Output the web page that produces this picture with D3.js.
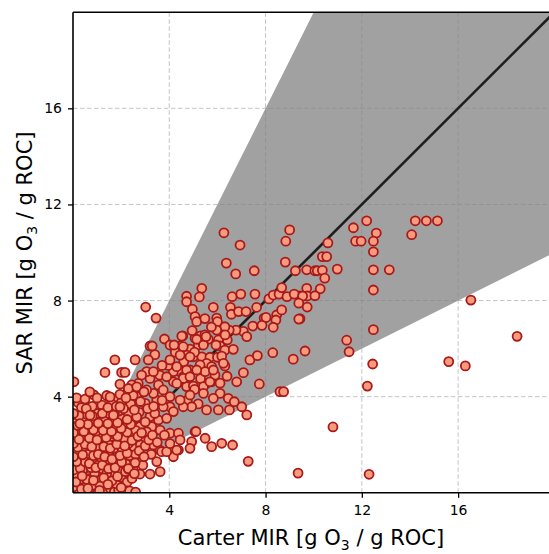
<!DOCTYPE html>
<html>
<head>
<meta charset="utf-8">
<script src="https://cdn.jsdelivr.net/npm/d3@7"></script>
<style>
  body { margin: 0; background: #fff; }
  svg { display: block; font-family: "DejaVu Sans", Verdana, sans-serif; }
</style>
</head>
<body>
<svg id="chart" width="549" height="554"></svg>
<script>
// axis settings
const xDomain = [0, 20];
const yDomain = [0, 20];
const xTicks = [4, 8, 12, 16];
const yTicks = [4, 8, 12, 16];
// ratio band (SAR / Carter) and 1:1 line
const bandRatios = [0.5, 2];
const parityLine = [[0, 0], [20, 20]];

// scattered compounds, off the dense cluster  [Carter MIR, SAR MIR]
const upperPoints = [
  [12.20,11.32],[11.65,11.03],[14.22,11.32],[14.68,11.32],[15.14,11.32],[14.07,10.74],[12.60,10.81],
  [12.48,10.47],[11.74,10.47],[11.97,10.47],[10.59,10.40],[12.48,10.03],[10.36,9.83],[10.54,9.83],
  [9.71,9.28],[10.05,9.24],[10.15,9.24],[10.36,9.26],[10.98,9.31],[10.46,8.93],[12.48,9.28],[13.14,9.28],
  [12.48,8.44],[9.71,8.51],[10.27,8.49],[9.43,8.19],[9.73,8.19],[10.05,8.20],[9.73,7.73],[9.43,7.25],
  [16.53,8.02],[12.48,6.79],[11.37,6.35],[11.47,5.87],[9.64,5.90],[12.45,5.36],[15.61,5.46],[16.30,5.28],
  [18.45,6.51],[12.23,4.44],[12.30,0.77],[9.35,0.82],[10.80,2.74]
];

// middle band along the 1:1 line
const middlePoints = [
  [6.27,10.82],[9.00,10.94],[8.84,10.47],[6.94,10.31],[6.37,9.56],[8.82,9.60],[6.76,9.11],[7.53,9.24],
  [9.24,9.24],[5.35,8.51],[4.72,8.18],[5.25,8.15],[6.61,8.16],[6.97,8.27],[7.56,8.27],[8.14,8.07],
  [8.32,8.23],[8.56,8.27],[8.67,8.54],[8.89,8.16],[9.19,8.27],[9.54,8.19],[4.72,7.95],[3.02,7.73],
  [3.45,7.27],[4.96,7.64],[5.07,7.33],[5.14,7.12],[5.48,7.25],[5.83,7.72],[5.97,7.27],[6.00,7.12],
  [6.54,7.72],[6.58,7.43],[6.88,7.54],[7.19,7.54],[7.63,7.72],[7.94,7.27],[8.02,7.30],[8.46,7.40],
  [8.67,7.61],[8.43,7.19],[9.38,7.23],[9.38,7.89],[7.47,6.94],[7.85,6.97],[8.32,6.89],[7.08,6.72],
  [7.22,6.50],[6.77,6.77],[6.49,6.77],[6.31,6.91],[6.22,6.57],[6.41,6.36],[5.97,6.77],[6.04,6.36],
  [6.11,6.11],[6.31,5.94],[6.66,5.97],[4.56,6.53],[5.07,6.43],[5.30,6.53],[5.48,6.57],[5.62,6.39],
  [5.21,6.15],[5.41,6.19],[4.17,6.11],[4.45,6.11],[4.86,5.98],[4.72,5.73],[5.00,5.66],[5.35,5.66],
  [5.69,5.64],[6.00,5.64],[5.55,5.39],[5.76,5.25],[6.31,5.28],[5.41,5.04],[4.86,5.11],[4.45,5.04],
  [4.17,5.04],[4.58,4.83],[4.17,4.62],[4.72,4.42],[5.00,4.44],[5.55,4.56],[5.76,4.62],[6.11,4.56],
  [6.80,4.62],[7.08,5.00],[7.35,5.53],[7.66,5.71],[8.30,5.83],[9.15,5.56],[7.74,4.53],[8.60,4.21],
  [8.75,4.21],[7.28,1.31],[3.61,1.78],[4.03,1.71],[5.55,3.45],[7.01,3.58],[7.22,3.24],[6.11,4.14],
  [6.45,3.93],[5.07,2.54],
  [3.60,4.90],[3.95,5.30],[4.25,5.85],[4.60,5.45],[5.05,5.85],[5.30,4.75],[5.90,4.90],[6.40,4.85],
  [4.75,3.85],[5.20,3.70],[5.05,4.30],[3.70,5.30],[3.40,5.75],[3.80,6.40],[4.95,6.75],[5.75,6.90]
];

// lower left region, x 0-7
const lowerPoints = [
  [0.04,4.62],[0.22,3.75],[1.33,5.01],[1.74,5.53],[2.58,5.53],[3.13,5.53],[3.20,6.11],[3.29,6.11],
  [2.02,5.01],[2.16,5.01],[0.87,4.07],[0.64,3.58],[0.57,3.38],[0.78,3.45],[1.47,4.00],[1.82,3.93],
  [4.03,6.15],[4.20,6.15],[4.52,6.52],[4.58,6.08],[5.14,6.39],[5.42,6.15],[5.53,6.50],[5.94,6.15],
  [6.32,6.57],[6.18,5.69],[4.86,5.66],[4.45,5.73],[4.03,5.53],[5.28,5.32],[5.49,5.04],[5.83,5.11],
  [6.25,5.39],[5.14,5.11],[4.72,5.11],[4.31,5.25],[3.89,4.83],[4.58,4.76],[4.86,4.83],[4.31,4.55],
  [5.42,4.42],[5.69,4.62],[5.42,4.14],[5.83,3.93],[6.04,3.45],[6.50,3.45],[6.70,3.79],[4.86,4.07],
  [4.93,3.58],[4.58,3.58],[4.45,3.86],[4.03,4.00],[4.03,3.58],[4.17,3.38],[3.75,3.58],[3.48,3.86],
  [3.34,4.14],[3.06,4.28],[3.20,4.76],[3.55,4.49],[3.75,4.28],[3.06,5.04],[3.34,5.04],[2.85,4.90],
  [2.71,4.55],[2.44,4.49],[2.23,4.14],[2.65,4.00],[3.00,3.72],[3.20,3.17],[3.55,3.03],[3.89,3.10],
  [4.03,2.48],[4.38,2.48],[4.45,2.20],[4.93,2.13],[5.11,2.55],[5.49,2.27],[5.76,1.92],[6.18,2.06],
  [6.63,1.99],[4.86,1.85],[4.38,1.78],[4.17,1.50],[3.68,1.71],[3.48,1.30],[3.62,0.88],[3.20,0.78],
  [2.78,0.78],[3.34,1.99],[3.62,2.61],[3.27,2.75],[3.06,2.54],[2.78,2.75],[2.58,2.34],[2.85,2.13],
  [2.37,1.78],[2.09,1.50],[1.81,1.23],[2.09,1.09],[1.68,0.81],[1.95,0.46],[1.54,0.26],[1.26,0.05],
  [1.68,0.01],[0.71,0.01]
];

// the dense cluster near the origin
const clusterPoints = [
  [0.08,0.05],[0.25,0.12],[0.42,0.02],[0.55,0.22],[0.70,0.08],[0.88,0.15],[1.02,0.03],[1.20,0.20],
  [1.38,0.06],[1.55,0.18],[1.72,0.04],[1.90,0.12],[2.10,0.02],[2.35,0.08],[2.60,0.03],[0.15,0.32],
  [0.62,0.40],[0.95,0.35],[1.30,0.42],[1.80,0.38],[0.30,0.30],[0.48,0.45],[0.05,0.60],[0.30,0.55],
  [0.48,0.75],[0.78,0.62],[1.10,0.70],[1.45,0.58],[1.65,0.80],[2.00,0.65],[2.25,0.45],[0.20,0.88],
  [0.65,0.95],[0.90,0.82],[1.25,0.98],[1.90,0.90],[2.45,0.60],[0.10,1.10],[0.38,1.20],[0.55,1.05],
  [0.82,1.25],[1.05,1.15],[1.35,1.30],[1.60,1.10],[1.85,1.35],[2.20,1.20],[2.50,1.05],[0.25,1.45],
  [0.70,1.50],[1.15,1.48],[1.50,1.55],[2.35,1.55],[2.70,1.40],[0.05,1.70],[0.45,1.75],[0.90,1.80],
  [1.25,1.70],[1.70,1.85],[2.05,1.75],[2.55,1.90],[0.30,2.00],[0.65,2.10],[1.05,2.05],[1.45,2.10],
  [1.90,2.15],[2.30,2.05],[2.80,2.00],[0.12,2.30],[0.50,2.40],[0.85,2.35],[1.20,2.45],[1.60,2.35],
  [2.00,2.50],[2.40,2.40],[0.30,2.65],[0.72,2.70],[1.10,2.75],[1.42,2.65],[1.80,2.70],[2.20,2.75],
  [2.60,2.60],[0.08,2.90],[0.45,3.00],[0.90,2.95],[1.30,3.05],[1.65,3.00],[2.05,3.10],[2.45,3.00],
  [0.60,3.25],[1.00,3.30],[1.50,3.30],[1.90,3.40],[2.30,3.30],[2.75,3.35],[0.35,3.55],[0.80,3.60],
  [1.20,3.65],[1.60,3.70],[2.00,3.75],[2.40,3.70],[1.00,3.95],[1.40,4.05],[1.95,4.10],[2.50,4.05],
  [2.80,3.80],[0.18,0.70],[0.40,0.95],[0.75,1.05],[1.00,0.50],[1.40,0.80],[0.20,1.90],[0.60,1.60],
  [1.10,1.85],[0.15,2.60],[0.95,2.55],[1.70,2.45],[2.15,2.25],[2.60,1.60],[2.90,1.15],
  [0.02,0.25],[0.12,0.45],[0.35,0.15],[0.58,0.55],[0.80,0.30],[1.12,0.28],[1.28,0.62],[1.62,0.50],
  [1.85,0.68],[2.18,0.88],[0.02,0.95],[0.30,1.02],[0.50,1.30],[0.68,1.22],[0.95,1.05],[1.22,1.15],
  [1.48,1.00],[1.75,1.05],[2.02,1.28],[2.30,0.98],[2.58,1.25],[0.15,1.30],[0.40,1.58],[0.85,1.55],
  [1.05,1.60],[1.32,1.50],[1.62,1.40],[1.95,1.55],[2.25,1.65],[2.75,1.75],[3.00,1.95],[0.02,2.05],
  [0.50,2.02],[0.78,1.92],[1.28,1.92],[1.55,1.85],[1.82,2.02],[2.15,1.95],[2.45,2.18],[2.70,2.35],
  [3.15,2.20],[0.25,2.22],[0.68,2.28],[1.00,2.20],[1.38,2.30],[1.85,2.35],[2.25,2.52],[2.85,2.50],
  [3.30,2.40],[0.02,2.50],[0.45,2.55],[0.85,2.62],[1.25,2.60],[1.60,2.55],[2.00,2.68],[2.40,2.85],
  [3.00,2.95],[0.20,2.80],[0.62,2.85],[1.05,2.90],[1.45,2.88],[1.85,2.92],[2.25,3.05],[2.65,3.15],
  [3.40,3.30],[0.25,3.20],[0.80,3.20],[1.22,3.30],[1.72,3.30],[2.10,3.50],[2.55,3.45],[0.55,3.50],
  [1.45,3.55],[1.80,3.60],[2.20,3.95],[2.30,4.34],[1.95,4.52],[2.65,4.41],[1.54,3.99],[0.29,2.88],
  [0.71,3.23],[1.68,3.23],[1.95,3.58],[3.89,1.71],[4.31,1.78],[4.03,2.05],[2.30,1.01],[2.55,0.80],
  [1.10,0.10],[1.45,0.35],[0.62,0.18],[0.85,0.52],[0.38,0.70],[2.00,0.22],[0.02,1.50],[0.02,3.30],
  [0.15,3.95],[0.50,3.90],[0.70,4.20],[3.10,3.50],[3.50,2.10],[3.80,2.40],[3.25,1.60],[2.95,1.50],
  [3.70,3.85],[3.35,3.60],[2.95,4.20]
];

const points = upperPoints.concat(middlePoints, lowerPoints, clusterPoints);

const svg = d3.select('#chart');
const x = d3.scaleLinear().domain(xDomain).range([73, 554.4]);
const y = d3.scaleLinear().domain(yDomain).range([492.8, 12.2]);

svg.append('clipPath').attr('id', 'plot-clip')
  .append('rect')
  .attr('x', x(0)).attr('y', y(20))
  .attr('width', x(20) - x(0)).attr('height', y(0) - y(20));

const plot = svg.append('g').attr('clip-path', 'url(#plot-clip)');

// grid
plot.selectAll('line.vgrid').data(xTicks).enter().append('line')
  .attr('class', 'vgrid')
  .attr('x1', d => x(d)).attr('x2', d => x(d))
  .attr('y1', y(0)).attr('y2', y(20))
  .attr('stroke', '#c4c4c4').attr('stroke-width', 1).attr('stroke-dasharray', '4.5,2.5');
plot.selectAll('line.hgrid').data(yTicks).enter().append('line')
  .attr('class', 'hgrid')
  .attr('y1', d => y(d)).attr('y2', d => y(d))
  .attr('x1', x(0)).attr('x2', x(20))
  .attr('stroke', '#c4c4c4').attr('stroke-width', 1).attr('stroke-dasharray', '4.5,2.5');

// shaded band between SAR = 0.5 * Carter and SAR = 2 * Carter
const band = [[0, 0], [xDomain[1] / bandRatios[1], yDomain[1]], [xDomain[1], yDomain[1]],
  [xDomain[1], xDomain[1] * bandRatios[0]]];
plot.append('path')
  .datum(band)
  .attr('d', d3.line().x(d => x(d[0])).y(d => y(d[1])).curve(d3.curveLinearClosed))
  .attr('fill', '#808080').attr('fill-opacity', 0.74);

plot.append('path')
  .datum(parityLine)
  .attr('d', d3.line().x(d => x(d[0])).y(d => y(d[1])))
  .attr('stroke', '#1e1e1e').attr('stroke-width', 2.6).attr('fill', 'none');

plot.selectAll('circle')
  .data(points)
  .enter()
  .append('circle')
  .attr('cx', d => x(d[0]))
  .attr('cy', d => y(d[1]))
  .attr('r', 4.5)
  .attr('fill', '#f89a7d')
  .attr('stroke', '#a81a1a')
  .attr('stroke-width', 1.8);

// axes
const xAxis = svg.append('g')
  .attr('transform', `translate(0,${y(0)})`)
  .call(d3.axisBottom(x).tickValues(xTicks).tickFormat(d3.format('d')).tickSize(5).tickPadding(7));
const yAxis = svg.append('g')
  .attr('transform', `translate(${x(0)},0)`)
  .call(d3.axisLeft(y).tickValues(yTicks).tickFormat(d3.format('d')).tickSize(5).tickPadding(6));
[xAxis, yAxis].forEach(ax => {
  ax.select('.domain').remove();
  ax.selectAll('.tick line').attr('stroke', '#000').attr('stroke-width', 1.3);
  ax.selectAll('.tick text').attr('fill', '#000').style('font-size', '14px')
    .style('font-family', '"DejaVu Sans", Verdana, sans-serif');
});

// spines
const spine = (x1, y1, x2, y2) => svg.append('line')
  .attr('x1', x1).attr('y1', y1).attr('x2', x2).attr('y2', y2)
  .attr('stroke', '#000').attr('stroke-width', 1.6);
spine(x(0), y(0), 549, y(0));
spine(x(0), y(20), 549, y(20));
spine(x(0), y(0), x(0), y(20));

// axis labels with subscript
function axisLabel(g, name) {
  g.append('tspan').text(name + ' MIR [g O');
  g.append('tspan').text('3').attr('font-size', '14px').attr('dy', 5);
  g.append('tspan').text(' / g ROC]').attr('dy', -5);
}
const xl = svg.append('text')
  .attr('x', 311).attr('y', 545)
  .attr('text-anchor', 'middle').attr('font-size', '21px').attr('fill', '#000');
axisLabel(xl, 'Carter');
const yl = svg.append('text')
  .attr('transform', 'translate(32,253) rotate(-90)')
  .attr('text-anchor', 'middle').attr('font-size', '21px').attr('fill', '#000');
axisLabel(yl, 'SAR');
</script>
</body>
</html>
